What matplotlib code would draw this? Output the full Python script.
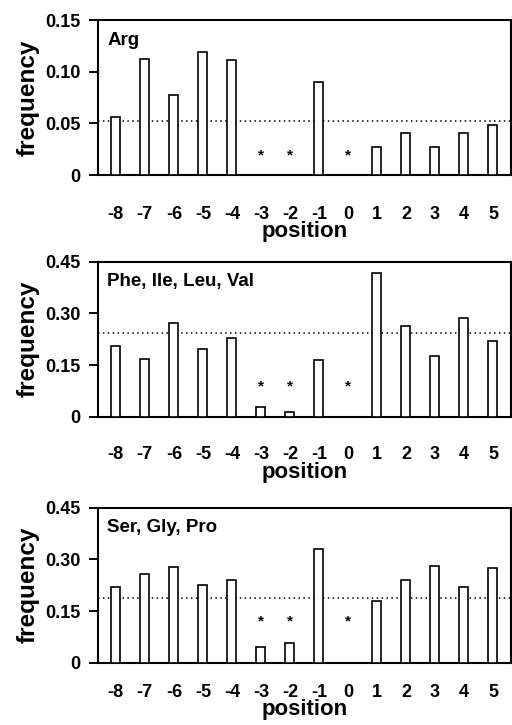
import numpy as np
import matplotlib
matplotlib.use('Agg')
import matplotlib.pyplot as plt

plt.rcParams['font.family'] = ['Liberation Sans', 'DejaVu Sans']
plt.rcParams['font.weight'] = 'bold'
plt.rcParams['axes.labelweight'] = 'bold'

positions = [-8, -7, -6, -5, -4, -3, -2, -1, 0, 1, 2, 3, 4, 5]
star_positions = [-3, -2, 0]

arg_freq = [0.056, 0.112, 0.077, 0.119, 0.111, 0, 0, 0.090, 0, 0.027, 0.041, 0.027, 0.041, 0.048]
hydrophobic_freq = [0.205, 0.169, 0.273, 0.196, 0.229, 0.027, 0.0135, 0.166, 0, 0.416, 0.263, 0.176, 0.287, 0.219]
small_freq = [0.221, 0.257, 0.279, 0.226, 0.240, 0.045, 0.058, 0.329, 0, 0.179, 0.240, 0.281, 0.221, 0.275]

arg_mean = 0.0523
hydrophobic_mean = 0.243
small_mean = 0.189

arg_star_y = 0.019
hydrophobic_star_y = 0.087
small_star_y = 0.121

panels = [
    ('Arg', arg_freq, arg_mean, arg_star_y, [0, 0.05, 0.10, 0.15], ['0', '0.05', '0.10', '0.15']),
    ('Phe, Ile, Leu, Val', hydrophobic_freq, hydrophobic_mean, hydrophobic_star_y,
     [0, 0.15, 0.30, 0.45], ['0', '0.15', '0.30', '0.45']),
    ('Ser, Gly, Pro', small_freq, small_mean, small_star_y,
     [0, 0.15, 0.30, 0.45], ['0', '0.15', '0.30', '0.45']),
]

fig = plt.figure(figsize=(5.12, 7.25), dpi=100)
bottoms = [0.7586, 0.4252, 0.0859]
xpads = [22, 21, 15]

for (name, freq, mean, star_y, yticks, ylabels), b, xp in zip(panels, bottoms, xpads):
    ax = fig.add_axes([0.191, b, 0.807, 0.2138])
    ax.bar(positions, freq, width=0.31, color='white', edgecolor='black', linewidth=1.2, zorder=3)
    ax.axhline(mean, color='black', linestyle=(0, (1, 2.2)), linewidth=1.1, zorder=2)
    for p in star_positions:
        ax.text(p, star_y, '*', ha='center', va='center', fontsize=11)
    ax.set_xlim(-8.62, 5.62)
    ax.set_ylim(0, yticks[-1])
    ax.set_yticks(yticks)
    ax.set_yticklabels(ylabels)
    ax.set_xticks(positions)
    ax.set_xticklabels([str(p) for p in positions])
    ax.tick_params(axis='x', length=0, pad=xp, labelsize=13)
    ax.tick_params(axis='y', length=6.5, width=1.4, direction='out', pad=6, labelsize=13)
    for s in ax.spines.values():
        s.set_linewidth(1.5)
    ax.set_xlabel('position', fontsize=16, labelpad=-1)
    ax.set_ylabel('frequency', fontsize=17.5, labelpad=4)
    ax.text(0.023, 0.87, name, transform=ax.transAxes, fontsize=13.5, ha='left', va='center')

fig.savefig('out.png', dpi=100)
